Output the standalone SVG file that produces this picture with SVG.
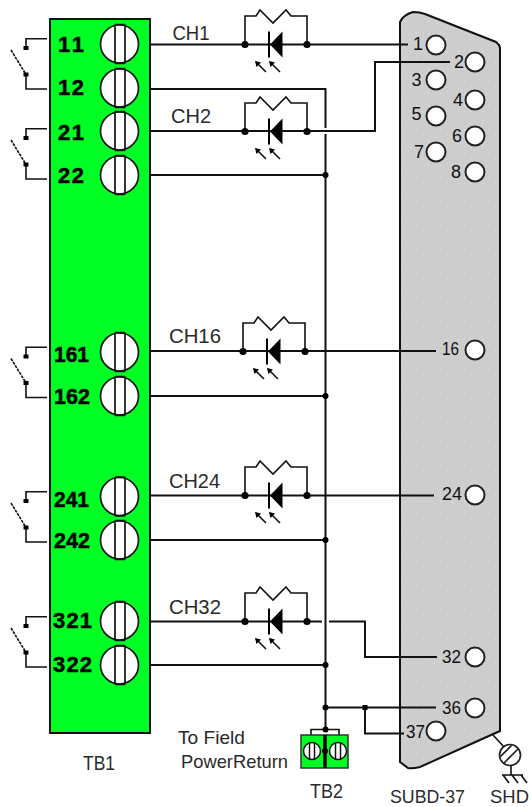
<svg xmlns="http://www.w3.org/2000/svg" width="531" height="807" viewBox="0 0 531 807">
<style>
.w{fill:none;stroke:#111;stroke-width:2}
.t{fill:none;stroke:#111;stroke-width:1.6}
.dot{fill:#000}
.txt{font-family:"Liberation Sans",Arial,sans-serif;fill:#2a2a2a}
.ch{font-size:21px}
.pin{font-size:18px;fill:#111}
.num{font-family:"Liberation Sans",Arial,sans-serif;font-weight:bold;font-size:22px;fill:#000;stroke:#000;stroke-width:.5}
.pinc{fill:#fff;stroke:#222;stroke-width:2;r:9.5px}
</style>
<defs>
<pattern id="speck" width="12" height="12" patternUnits="userSpaceOnUse">
<rect width="12" height="12" fill="#cdcdcd"/>
<rect x="2" y="3" width="1" height="1" fill="#e4e4e4"/>
<rect x="8" y="9" width="1" height="1" fill="#e4e4e4"/>
</pattern>
<clipPath id="shc"><circle cx="510" cy="755" r="10"/></clipPath>
<g id="screw">
<circle cx="119.5" cy="0" r="19" fill="#fff" stroke="#111" stroke-width="1.7"/>
<path d="M115 -19.5V19.5M125 -19.5V19.5M115 -19.5H125M115 19.5H125" fill="none" stroke="#111" stroke-width="1.7"/>
</g>
<g id="sw">
<path class="t" d="M47 38.7H26V48M26 74.5V89H47"/>
<path class="t" d="M11 50L26 74.5" stroke-dasharray="3 1" stroke-width="1.200"/>
<rect class="dot" x="23.500" y="46" width="5" height="4"/>
<rect class="dot" x="23.500" y="72.500" width="5" height="4"/>
</g>
<g id="led">
<path class="t" d="M245 44.500V16H256L260 10L273 23L286 10L291 16H307V44.500"/>
<circle class="dot" cx="245" cy="44.500" r="3.600"/>
<circle class="dot" cx="307" cy="44.500" r="3.600"/>
<rect class="dot" x="268" y="31.500" width="2" height="26"/>
<path class="dot" d="M270 44.500L282.500 31.500V57.500Z"/>
<path class="t" d="M256 62L266 72M270 62L280 72" stroke-width="1.300"/>
<path class="dot" d="M255 61L261 62.500L256.500 67ZM269 61L275 62.500L270.500 67Z"/>
</g>
</defs>
<rect width="531" height="807" fill="#fff"/>

<g id="connectors">
<path class="w" d="M150 44.500H408"/>
<path class="w" d="M150 131H375V62H450"/>
<path class="w" d="M150 89H325.500V128M325.500 134V731"/>
<path class="w" d="M150 175H325M150 396H325M150 540H325M150 665H325"/>
<path class="w" d="M150 351H436M150 495.500H434"/>
<path class="w" d="M150 621.500H322M329 621.500H365V657H437"/>
<path class="w" d="M325 707.500H436M365 707.500V733.500H404"/>
<path class="t" d="M311 735V729.500H339V735"/>
<path class="t" d="M493 735L504 747"/>
<circle class="dot" cx="325.500" cy="175" r="3"/>
<circle class="dot" cx="325.500" cy="396" r="3"/>
<circle class="dot" cx="325.500" cy="540" r="3"/>
<circle class="dot" cx="325.500" cy="665" r="3"/>
<circle class="dot" cx="325.500" cy="707.500" r="3"/>
<circle class="dot" cx="325.500" cy="729.500" r="3"/>
<rect class="dot" x="362.500" y="705" width="5" height="5"/>
</g>

<g id="TB1">
<rect x="50" y="19" width="100" height="714" fill="#00ff24" stroke="#111" stroke-width="2"/>
<use href="#screw" y="44"/><use href="#screw" y="88"/><use href="#screw" y="131"/><use href="#screw" y="175"/>
<use href="#screw" y="352"/><use href="#screw" y="396"/><use href="#screw" y="496.500"/><use href="#screw" y="540"/>
<use href="#screw" y="621"/><use href="#screw" y="665"/>
<text class="num" x="58" y="52" textLength="26">11</text>
<text class="num" x="58" y="95" textLength="26">12</text>
<text class="num" x="58" y="140" textLength="26">21</text>
<text class="num" x="58" y="183" textLength="26">22</text>
<text class="num" x="54" y="362" textLength="35" lengthAdjust="spacingAndGlyphs">161</text>
<text class="num" x="54" y="404" textLength="36" lengthAdjust="spacingAndGlyphs">162</text>
<text class="num" x="54" y="507" textLength="35" lengthAdjust="spacingAndGlyphs">241</text>
<text class="num" x="54" y="548" textLength="36" lengthAdjust="spacingAndGlyphs">242</text>
<text class="num" x="53" y="628" textLength="39">321</text>
<text class="num" x="53" y="672" textLength="39">322</text>
<text class="txt ch" x="83" y="770" textLength="32" lengthAdjust="spacingAndGlyphs">TB1</text>
</g>

<g id="switches">
<use href="#sw"/><use href="#sw" y="90"/><use href="#sw" y="308.500"/><use href="#sw" y="453"/><use href="#sw" y="578"/>
</g>

<g id="CH1"><use href="#led"/><text class="txt ch" x="172.500" y="40" textLength="37" lengthAdjust="spacingAndGlyphs">CH1</text></g>
<g id="CH2"><use href="#led" y="87"/><text class="txt ch" x="171" y="123" textLength="40" lengthAdjust="spacingAndGlyphs">CH2</text></g>
<g id="CH16"><use href="#led" x="-2" y="307"/><text class="txt ch" x="169" y="343" textLength="52" lengthAdjust="spacingAndGlyphs">CH16</text></g>
<g id="CH24"><use href="#led" y="451"/><text class="txt ch" x="169" y="488" textLength="51" lengthAdjust="spacingAndGlyphs">CH24</text></g>
<g id="CH32"><use href="#led" y="577"/><text class="txt ch" x="169" y="614" textLength="52" lengthAdjust="spacingAndGlyphs">CH32</text></g>

<g id="SUBD-37">
<path d="M400 22Q403 15 413 12Q420 12 425 14L496 42Q500 45 500 48V731L491 735L420 767Q412 769 408 768L400 762Z" fill="url(#speck)" stroke="#111" stroke-width="2"/>
<path class="w" d="M400 44.500H408M400 62H450M400 351H436M400 495.500H434M400 657H437M400 707.500H436M400 733.500H404"/>
<circle class="pinc" cx="436" cy="45"/><circle class="pinc" cx="475" cy="62"/>
<circle class="pinc" cx="436" cy="80"/><circle class="pinc" cx="475" cy="100"/>
<circle class="pinc" cx="436" cy="116"/><circle class="pinc" cx="475" cy="136"/>
<circle class="pinc" cx="436" cy="152"/><circle class="pinc" cx="475" cy="172"/>
<circle class="pinc" cx="475" cy="350"/><circle class="pinc" cx="475" cy="495"/>
<circle class="pinc" cx="475" cy="657"/><circle class="pinc" cx="475" cy="708"/>
<circle class="pinc" cx="436" cy="731"/>
<g class="txt pin">
<text x="413" y="50">1</text><text x="454" y="68">2</text><text x="411.500" y="86">3</text><text x="453" y="106">4</text>
<text x="411.500" y="120">5</text><text x="452" y="142">6</text><text x="414" y="158">7</text><text x="451" y="178">8</text>
<text x="442" y="355" textLength="17" lengthAdjust="spacingAndGlyphs">16</text><text x="442" y="500" textLength="20" lengthAdjust="spacingAndGlyphs">24</text><text x="442" y="663" textLength="19" lengthAdjust="spacingAndGlyphs">32</text><text x="442" y="714" textLength="19" lengthAdjust="spacingAndGlyphs">36</text><text x="406" y="738" textLength="19" lengthAdjust="spacingAndGlyphs">37</text>
</g>
<text class="txt" x="390" y="803" font-size="19" textLength="75" lengthAdjust="spacingAndGlyphs">SUBD-37</text>
</g>

<g id="TB2">
<rect x="301" y="735" width="47" height="33" fill="#00ff24" stroke="#333" stroke-width="1.500"/>
<circle cx="312" cy="751" r="8.500" fill="#fff" stroke="#111" stroke-width="1.500"/>
<circle cx="338" cy="751" r="8.500" fill="#fff" stroke="#111" stroke-width="1.500"/>
<path d="M309.500 743V759M314.500 743V759M335.500 743V759M340.500 743V759" stroke="#111" stroke-width="1.500" fill="none"/>
<path d="M325 735V768" stroke="#000" stroke-width="3.500" fill="none"/>
<circle class="dot" cx="325" cy="751" r="3"/>
<text class="txt ch" x="310" y="798" textLength="33" lengthAdjust="spacingAndGlyphs">TB2</text>
</g>

<g id="field-label" class="txt">
<text x="178" y="744" font-size="19" textLength="67" lengthAdjust="spacingAndGlyphs">To Field</text>
<text x="181" y="768" font-size="19" textLength="107" lengthAdjust="spacingAndGlyphs">PowerReturn</text>
</g>

<g id="SHD">
<circle cx="510" cy="755" r="10.500" fill="#fff" stroke="#222" stroke-width="1.700"/>
<path d="M500 757L512 745M504 763L518 749" stroke="#222" stroke-width="1.700" fill="none" clip-path="url(#shc)"/>
<path class="t" d="M511 765V775M502 775H523M503 775L509 783M512 775L518 783M521 775L527 783"/>
<text class="txt" x="490" y="803" font-size="19" textLength="39" lengthAdjust="spacingAndGlyphs">SHD</text>
</g>
</svg>
